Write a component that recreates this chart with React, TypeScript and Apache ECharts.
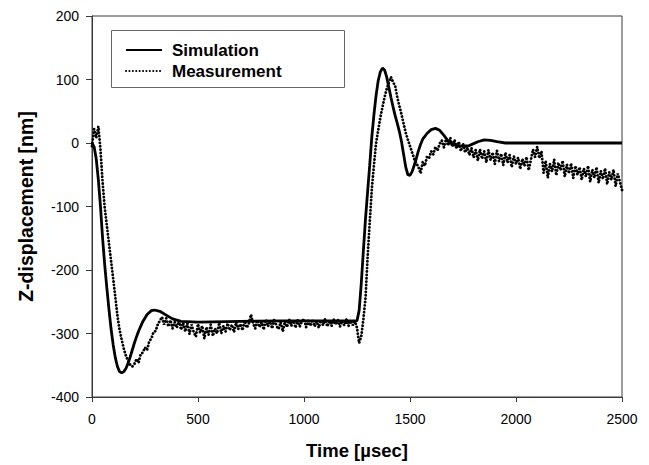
import React, { useEffect, useRef } from "react";
import * as echarts from "echarts";

const FONT = "'Liberation Sans', Arial, Helvetica, sans-serif";

const xTicks = [0, 500, 1000, 1500, 2000, 2500];
const yTicks = [-400, -300, -200, -100, 0, 100, 200];

const seriesNames = ["Simulation", "Measurement"];

const simTime = [
  0, 10, 20, 30, 40, 50, 60, 70, 80, 90, 100, 110, 120, 130, 140, 150, 160, 170, 180, 190, 200, 210, 220, 240, 260,
  280, 295, 320, 350, 380, 420, 500, 700, 900, 1100, 1250, 1260, 1270, 1280, 1290, 1300, 1310, 1320, 1330, 1340,
  1350, 1360, 1370, 1380, 1390, 1400, 1410, 1420, 1430, 1440, 1450, 1460, 1470, 1480, 1490, 1500, 1510, 1520, 1530,
  1540, 1550, 1560, 1580, 1600, 1620, 1640, 1660, 1680, 1700, 1720, 1750, 1780, 1800, 1820, 1850, 1880, 1910, 1950,
  2000, 2500,
];
const simValue = [
  0, -6, -25, -58, -100, -150, -192, -228, -262, -293, -318, -338, -352, -360, -362, -360, -355, -347, -337, -326,
  -315, -305, -296, -281, -270, -264, -263, -265, -271, -277, -281, -282, -281, -280, -280, -280, -264, -222, -170,
  -120, -77, -35, 10, 45, 75, 98, 112, 118, 115, 104, 88, 72, 57, 43, 31, 18, 2, -18, -38, -50, -51, -45, -35, -24,
  -12, -2, 6, 15, 21, 23, 20, 12, 3, -2, -4, -5, -4, -1, 2, 5, 4, 2, 0, 0, 0,
];

// Measurement sampled every 10 µsec from t = 0
const measStep = 10;
const measValue = [
  -5, 22, 8, 26, -10, -62, -102, -130, -158, -186,
  -214, -243, -272, -294, -310, -324, -335, -343, -349, -352,
  -348, -340, -346, -332, -330, -322, -326, -312, -308, -298,
  -296, -286, -280, -274, -286, -276, -289, -279, -292, -282,
  -291, -280, -294, -283, -297, -284, -301, -286, -298, -305,
  -285, -299, -288, -308, -290, -302, -286, -304, -292, -300,
  -283, -300, -288, -297, -284, -295, -286, -298, -282, -293,
  -285, -295, -280, -291, -284, -270, -284, -292, -279, -290,
  -282, -294, -278, -289, -281, -292, -277, -288, -293, -282,
  -297, -281, -290, -278, -288, -280, -291, -279, -289, -281,
  -277, -290, -280, -288, -278, -289, -281, -291, -279, -287,
  -277, -289, -280, -288, -278, -286, -279, -289, -280, -287,
  -278, -288, -280, -287, -281, -291, -315, -305, -278, -245,
  -180, -125, -72, -35, 0, 20, 40, 56, 72, 85,
  95, 104, 96, 90, 72, 58, 45, 30, 16, 5,
  -5, -15, -25, -32, -38, -48, -30, -36, -22, -24,
  -13, -18, -6, -12, -1, 4, -7, 6, -4, 8,
  -6, 5, -9, 2, -13, -1, -15, -6, -19, -8,
  -23, -11, -28, -10, -25, -13, -31, -11, -27, -15,
  -33, -12, -29, -17, -35, -15, -31, -19, -38, -21,
  -33, -23, -41, -25, -36, -22, -43, -27, -10, -22,
  -6, -24, -13, -47, -28, -55, -33, -45, -26, -51,
  -31, -43, -28, -53, -34, -48, -32, -55, -36, -50,
  -38, -58, -40, -53, -36, -61, -42, -55, -38, -63,
  -44, -57, -40, -65, -46, -58, -42, -68, -48, -61,
  -74,
];

export default function App() {
  const ref = useRef<HTMLDivElement>(null);
  useEffect(() => {
    if (!ref.current) return;
    const chart = echarts.init(ref.current, undefined, { renderer: "svg" });
    const simData = simTime.map((t, i) => [t, simValue[i]]);
    const measData = measValue.map((v, i) => [i * measStep, v]);
    const axisColor = "#3a3a3a";
    chart.setOption({
      animation: false,
      backgroundColor: "#fff",
      grid: {
        left: 92,
        top: 16,
        right: 27,
        bottom: 66,
        show: true,
        borderColor: axisColor,
        borderWidth: 1,
        backgroundColor: "transparent",
      },
      legend: {
        orient: "vertical",
        left: 120,
        top: 36,
        itemWidth: 36,
        itemHeight: 14,
        itemGap: 3,
        data: seriesNames,
        itemStyle: { opacity: 0 },
        textStyle: {
          fontFamily: FONT,
          fontSize: 17,
          lineHeight: 18,
          fontWeight: "bold",
          color: "#000",
          padding: [0, 0, 0, 5],
        },
      },
      xAxis: {
        type: "value",
        min: xTicks[0],
        max: xTicks[xTicks.length - 1],
        interval: 500,
        name: "Time [\u00b5sec]",
        nameLocation: "middle",
        nameGap: 44,
        nameTextStyle: { fontFamily: FONT, fontSize: 18.5, fontWeight: "bold", color: "#000" },
        axisLine: { show: true, onZero: false, lineStyle: { color: axisColor, width: 1 } },
        axisTick: { show: true, inside: false, length: 5, lineStyle: { color: axisColor } },
        axisLabel: {
          margin: 15,
          fontFamily: FONT,
          fontSize: 14,
          color: "#000",
          formatter: (v: number) => String(v),
        },
        splitLine: { show: false },
      },
      yAxis: {
        type: "value",
        min: yTicks[0],
        max: yTicks[yTicks.length - 1],
        interval: 100,
        name: "Z-displacement [nm]",
        nameLocation: "middle",
        nameGap: 56,
        nameTextStyle: { fontFamily: FONT, fontSize: 19.5, fontWeight: "bold", color: "#000" },
        axisLine: { show: true, onZero: false, lineStyle: { color: axisColor, width: 1 } },
        axisTick: { show: true, inside: false, length: 6, lineStyle: { color: axisColor } },
        axisLabel: {
          margin: 13,
          fontFamily: FONT,
          fontSize: 14,
          color: "#000",
          formatter: (v: number) => String(v),
        },
        splitLine: { show: false },
      },
      graphic: [
        {
          type: "rect",
          z: 0,
          shape: { x: 111.5, y: 30.5, width: 233, height: 57 },
          style: { fill: "#fff", stroke: "#666", lineWidth: 1 },
        },
      ],
      series: [
        {
          name: seriesNames[0],
          type: "line",
          data: simData,
          symbol: "none",
          z: 3,
          itemStyle: { color: "#000" },
          lineStyle: { color: "#000", width: 2.8 },
        },
        {
          name: seriesNames[1],
          type: "line",
          data: measData,
          symbol: "none",
          z: 2,
          itemStyle: { color: "#000" },
          lineStyle: { color: "#000", width: 2.8, type: [0.1, 3.3], cap: "round" },
        },
      ],
    });
    return () => chart.dispose();
  }, []);
  return (
    <div
      ref={ref}
      style={{ position: "absolute", left: 0, top: 0, width: 649, height: 465 }}
    />
  );
}
